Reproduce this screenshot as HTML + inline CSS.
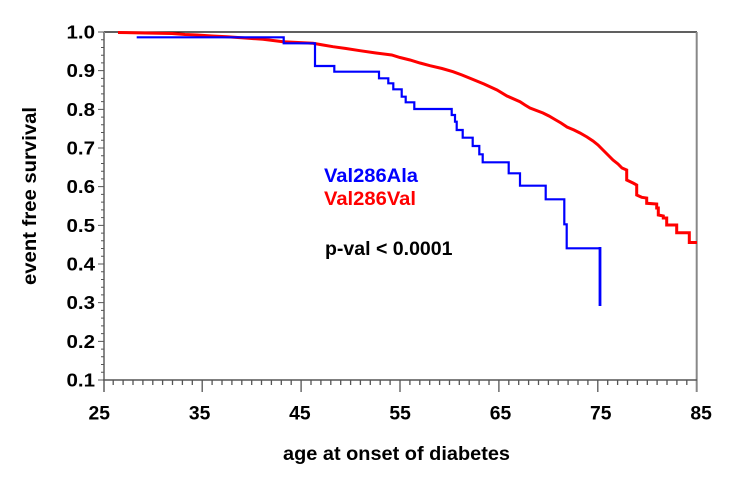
<!DOCTYPE html>
<html>
<head>
<meta charset="utf-8">
<style>
  html,body{margin:0;padding:0;background:#fff;}
  svg{display:block;}
  text{font-family:"Liberation Sans",Arial,sans-serif;font-weight:bold;}
</style>
</head>
<body>
<svg width="735" height="497" viewBox="0 0 735 497" xmlns="http://www.w3.org/2000/svg">
  <rect x="0" y="0" width="735" height="497" fill="#fff"/>

  <!-- frame -->
  <line x1="104" y1="32" x2="697" y2="32" stroke="#000" stroke-width="1.3"/>
  <line x1="696.7" y1="32" x2="696.7" y2="392" stroke="#888" stroke-width="2"/>
  <line x1="104" y1="32" x2="104" y2="392" stroke="#888" stroke-width="2"/>
  <line x1="103" y1="380" x2="697" y2="380" stroke="#555" stroke-width="1.5"/>

  <!-- x ticks -->
  <path stroke="#555" stroke-width="1.3" fill="none" d="
  M113.2 380v5 M123.1 380v5 M133.0 380v5 M142.9 380v5 M152.8 380v5 M162.6 380v5 M172.5 380v5 M182.4 380v5 M192.3 380v5
  M212.1 380v5 M222.0 380v5 M231.9 380v5 M241.8 380v5 M251.7 380v5 M261.5 380v5 M271.4 380v5 M281.3 380v5 M291.2 380v5
  M311.0 380v5 M320.9 380v5 M330.8 380v5 M340.7 380v5 M350.6 380v5 M360.4 380v5 M370.3 380v5 M380.2 380v5 M390.1 380v5
  M409.9 380v5 M419.8 380v5 M429.7 380v5 M439.6 380v5 M449.5 380v5 M459.3 380v5 M469.2 380v5 M479.1 380v5 M489.0 380v5
  M508.8 380v5 M518.7 380v5 M528.6 380v5 M538.5 380v5 M548.4 380v5 M558.2 380v5 M568.1 380v5 M578.0 380v5 M587.9 380v5
  M607.7 380v5 M617.6 380v5 M627.5 380v5 M637.4 380v5 M647.3 380v5 M657.1 380v5 M667.0 380v5 M676.9 380v5 M686.8 380v5
  M202.2 380v12 M301.1 380v12 M400.0 380v12 M498.9 380v12 M597.8 380v12"/>

  <!-- y ticks -->
  <path stroke="#555" stroke-width="1" fill="none" d="
  M101 372.27h3 M101 364.53h3 M101 356.8h3 M101 349.07h3
  M101 333.6h3 M101 325.87h3 M101 318.13h3 M101 310.4h3
  M101 294.93h3 M101 287.2h3 M101 279.47h3 M101 271.73h3
  M101 256.27h3 M101 248.53h3 M101 240.8h3 M101 233.07h3
  M101 217.6h3 M101 209.87h3 M101 202.13h3 M101 194.4h3
  M101 178.93h3 M101 171.2h3 M101 163.47h3 M101 155.73h3
  M101 140.27h3 M101 132.53h3 M101 124.8h3 M101 117.07h3
  M101 101.6h3 M101 93.87h3 M101 86.13h3 M101 78.4h3
  M101 62.93h3 M101 55.2h3 M101 47.47h3 M101 39.73h3
  M98 380h6 M98 341.33h6 M98 302.67h6 M98 264h6 M98 225.33h6 M98 186.67h6 M98 148h6 M98 109.33h6 M98 70.67h6 M98 32h6"/>

  <!-- y labels -->
  <g font-size="18.5" fill="#000" text-anchor="end">
    <text x="95" y="38.5" textLength="28.5" lengthAdjust="spacingAndGlyphs">1.0</text>
    <text x="95" y="77.2" textLength="28.5" lengthAdjust="spacingAndGlyphs">0.9</text>
    <text x="95" y="115.8" textLength="28.5" lengthAdjust="spacingAndGlyphs">0.8</text>
    <text x="95" y="154.5" textLength="28.5" lengthAdjust="spacingAndGlyphs">0.7</text>
    <text x="95" y="193.2" textLength="28.5" lengthAdjust="spacingAndGlyphs">0.6</text>
    <text x="95" y="231.8" textLength="28.5" lengthAdjust="spacingAndGlyphs">0.5</text>
    <text x="95" y="270.5" textLength="28.5" lengthAdjust="spacingAndGlyphs">0.4</text>
    <text x="95" y="309.2" textLength="28.5" lengthAdjust="spacingAndGlyphs">0.3</text>
    <text x="95" y="347.8" textLength="28.5" lengthAdjust="spacingAndGlyphs">0.2</text>
    <text x="95" y="386.5" textLength="28.5" lengthAdjust="spacingAndGlyphs">0.1</text>
  </g>

  <!-- x labels -->
  <g font-size="19" fill="#000" text-anchor="middle">
    <text x="99.3" y="419.5" textLength="21.5" lengthAdjust="spacingAndGlyphs">25</text>
    <text x="199.6" y="419.5" textLength="21.5" lengthAdjust="spacingAndGlyphs">35</text>
    <text x="299.9" y="419.5" textLength="21.5" lengthAdjust="spacingAndGlyphs">45</text>
    <text x="400.2" y="419.5" textLength="21.5" lengthAdjust="spacingAndGlyphs">55</text>
    <text x="500.5" y="419.5" textLength="21.5" lengthAdjust="spacingAndGlyphs">65</text>
    <text x="600.8" y="419.5" textLength="21.5" lengthAdjust="spacingAndGlyphs">75</text>
    <text x="701.1" y="419.5" textLength="21.5" lengthAdjust="spacingAndGlyphs">85</text>
  </g>

  <!-- axis titles -->
  <text x="283" y="460" font-size="19.5" fill="#000" textLength="227" lengthAdjust="spacingAndGlyphs">age at onset of diabetes</text>
  <text transform="translate(36,196) rotate(-90)" x="0" y="0" font-size="19" fill="#000" text-anchor="middle" textLength="178" lengthAdjust="spacingAndGlyphs">event free survival</text>

  <!-- legend -->
  <text x="324" y="182" font-size="19" fill="#0000ff" textLength="94" lengthAdjust="spacingAndGlyphs">Val286Ala</text>
  <text x="324" y="205" font-size="19" fill="#ff0000" textLength="92" lengthAdjust="spacingAndGlyphs">Val286Val</text>
  <text x="325" y="255" font-size="19" fill="#000" textLength="127.5" lengthAdjust="spacingAndGlyphs">p-val &lt; 0.0001</text>

  <!-- red curve -->
  <polyline fill="none" stroke="#ff0000" stroke-width="3" stroke-linejoin="miter" points="
  118,32.5 145,33 172,33.5 185,34.5 197,35 212,36 227,36.7 245,38 263,39.3 283,41.7 298,42.5 313,43.3 323,45 333,46.7 346,48.5 360,50.7
  376,53 391.7,55 400,57.5 410,60 420,63 430,65.7 442,68.5 453,71.7 462,75 470,78.3 484,84 497,90 507,96 520,101.7 525,105 530,108
  543,113 549,116 555,119.5 561,123 567,127 574,130 580,133 587,137 593,141 598,145 603,150 608,155 613,160 618,164 622,168
  626.7,170 626.7,180 633,183 636.7,185 636.7,195 641.7,197.3 646.7,198 646.7,203.3 656.7,204 656.7,208 658.3,208 658.3,215
  663.3,216 663.3,218 666.7,218 666.7,225 676.7,225 676.7,232.7 689.3,232.7 689.3,242.5 697,242.5"/>

  <!-- blue curve -->
  <polyline fill="none" stroke="#0000ff" stroke-width="2.2" stroke-linejoin="miter" points="
  136.7,37.3 283.7,37.3 283.7,43.3 315,43.3 315,66 334.3,66 334.3,71.7 379,71.7 379,78.3 388.3,78.3 388.3,83.3 393.3,83.3
  393.3,89.3 401.7,89.3 401.7,96.7 405.7,96.7 405.7,102.3 414.3,102.3 414.3,109 451.7,109 451.7,115 455,115 455,121.7 456.7,121.7
  456.7,130 462.7,130 462.7,137.7 472.7,137.7 472.7,146 479.3,146 479.3,154.3 482.7,154.3 482.7,162.3 508.7,162.3 508.7,173.3
  520,173.3 520,185.7 545.7,185.7 545.7,199.3 564.3,199.3 564.3,224.3 566.7,224.3 566.7,248.3 600,248.3"/>
  <line x1="600" y1="247" x2="600" y2="306" stroke="#0000ff" stroke-width="2.8"/>
</svg>
</body>
</html>
